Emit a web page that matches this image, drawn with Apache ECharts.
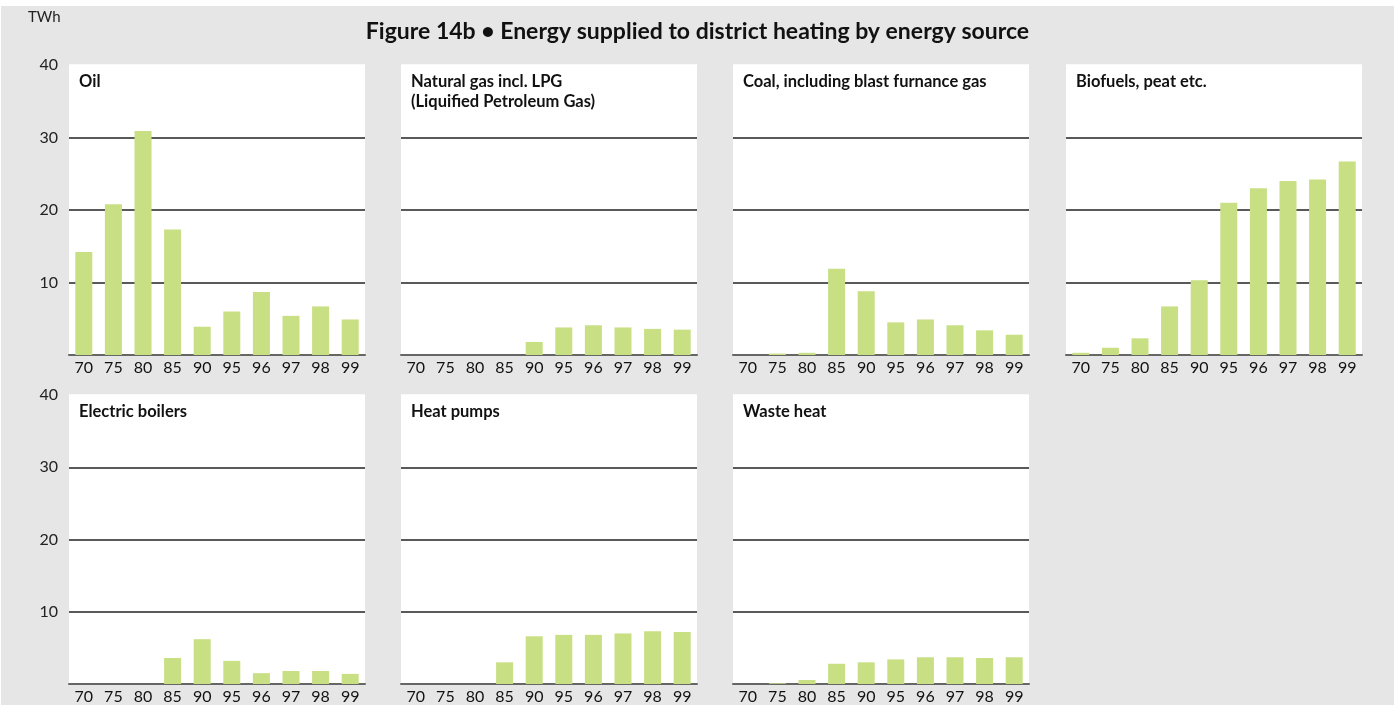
<!DOCTYPE html>
<html>
<head>
<meta charset="utf-8">
<script src="https://cdn.jsdelivr.net/npm/echarts@6/dist/echarts.min.js"></script>
<style>
  html, body { margin: 0; padding: 0; background: #fff; }
  #chart { position: absolute; left: 1px; top: 6px; width: 1393px; height: 699px; }
</style>
</head>
<body>
<div id="chart"></div>
<script>
var years = ['70', '75', '80', '85', '90', '95', '96', '97', '98', '99'];
var yTicks = [0, 10, 20, 30, 40];

var panelNames = [
    'Oil',
    'Natural gas incl. LPG\n(Liquified Petroleum Gas)',
    'Coal, including blast furnance gas',
    'Biofuels, peat etc.',
    'Electric boilers',
    'Heat pumps',
    'Waste heat'
];

var oil = [14.2, 20.8, 30.9, 17.3, 3.9, 6.0, 8.7, 5.4, 6.7, 4.9];
var naturalGas = [0, 0, 0, 0, 1.8, 3.8, 4.1, 3.8, 3.6, 3.5];
var coal = [0, 0.2, 0.3, 11.9, 8.8, 4.5, 4.9, 4.1, 3.4, 2.8];
var biofuels = [0.3, 1.0, 2.3, 6.7, 10.3, 21.0, 23.0, 24.0, 24.2, 26.7];
var electricBoilers = [0, 0, 0, 3.6, 6.2, 3.2, 1.5, 1.8, 1.8, 1.4];
var heatPumps = [0, 0, 0, 3.0, 6.6, 6.8, 6.8, 7.0, 7.3, 7.2];
var wasteHeat = [0, 0.1, 0.55, 2.8, 3.0, 3.4, 3.7, 3.7, 3.6, 3.7];

var seriesData = [oil, naturalGas, coal, biofuels, electricBoilers, heatPumps, wasteHeat];

var chart = echarts.init(document.getElementById('chart'));

// panel layout (note: "top" is a reserved global in browsers, so gx/gy)
var colLeft = [68, 400, 732, 1065];
var rowTop = [59, 389];
var panelW = 296, panelH = 290;
var font = 'Lato, "DejaVu Sans", sans-serif';

var grids = [], xAxes = [], yAxes = [], series = [], titles = [];

titles.push({
    text: 'Figure 14b \u2022 Energy supplied to district heating by energy source',
    left: 'center',
    top: 14,
    padding: 0,
    textStyle: { fontFamily: font, fontSize: 23, fontWeight: 'bold', color: '#111' }
});
titles.push({
    text: 'TWh',
    left: 27,
    top: 4,
    padding: 0,
    textStyle: { fontFamily: font, fontSize: 15, fontWeight: 'normal', color: '#222' }
});

for (var i = 0; i < seriesData.length; i++) {
    var col = i % 4, row = Math.floor(i / 4);
    var gx = colLeft[col], gy = rowTop[row];
    grids.push({
        left: gx, top: gy, width: panelW, height: panelH,
        show: true, backgroundColor: '#fff', borderWidth: 0
    });
    xAxes.push({
        type: 'category', gridIndex: i, data: years,
        axisLine: { lineStyle: { color: '#666', width: 2 } },
        axisTick: { show: false },
        axisLabel: { fontFamily: font, fontSize: 16, color: '#111', margin: 5 }
    });
    yAxes.push({
        type: 'value', gridIndex: i, min: yTicks[0], max: yTicks[yTicks.length - 1], interval: 10,
        axisLine: { show: false }, axisTick: { show: false },
        axisLabel: {
            show: col === 0, fontFamily: font, fontSize: 16, color: '#222', margin: 11,
            formatter: function (v) { return v === 0 ? '' : String(v); }
        },
        splitLine: { lineStyle: { color: ['#fff', '#222', '#222', '#222', '#fff'], width: 1.5 } }
    });
    series.push({
        type: 'bar', xAxisIndex: i, yAxisIndex: i, data: seriesData[i],
        barWidth: 17, itemStyle: { color: '#c8df84' }
    });
    titles.push({
        text: panelNames[i],
        left: gx + 10, top: gy + 7,
        padding: 0,
        textStyle: { fontFamily: font, fontSize: 16.5, fontWeight: 'bold', color: '#111', lineHeight: 20 }
    });
}

chart.setOption({
    backgroundColor: '#e6e6e6',
    animation: false,
    title: titles,
    grid: grids,
    xAxis: xAxes,
    yAxis: yAxes,
    series: series
});

window.onresize = function () {
    chart.resize();
};
</script>
</body>
</html>
